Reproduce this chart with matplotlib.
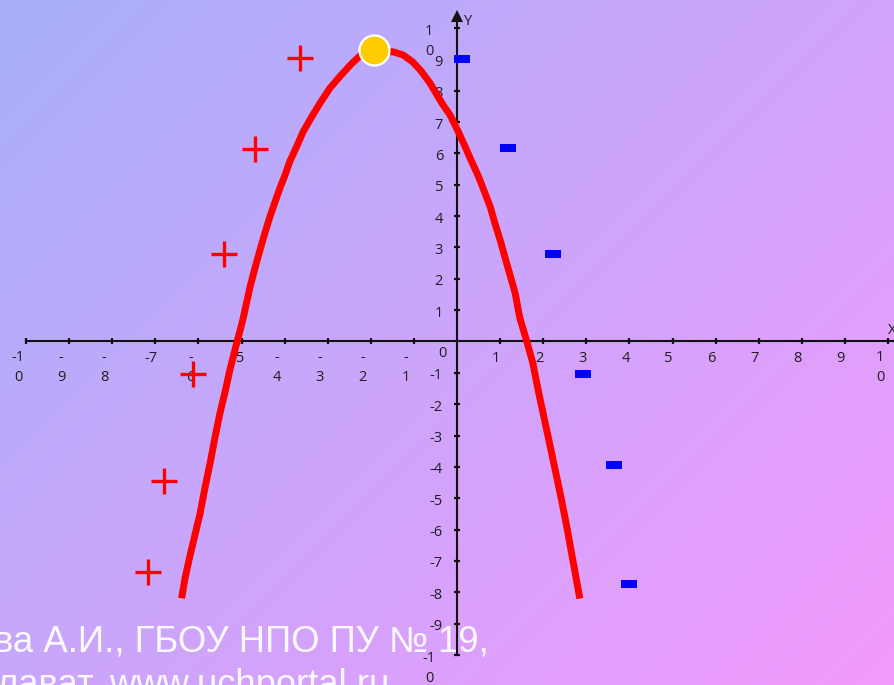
import numpy as np
import matplotlib
matplotlib.use("Agg")
import matplotlib.pyplot as plt

# ---------------- data ----------------
curve_x = [-6.39, -6.31, -6.20, -6.08, -5.96, -5.85, -5.73, -5.62, -5.50, -5.38,
           -5.27, -5.14, -5.03, -4.96, -4.92, -4.80, -4.69, -4.57, -4.46, -4.34,
           -4.22, -4.11, -3.99, -3.88, -3.72, -3.57, -3.37, -3.18, -2.95, -2.72,
           -2.44, -2.25, -1.93, -1.48, -1.25, -1.03, -0.84, -0.63, -0.47, -0.32,
           -0.16, 0.01, 0.19, 0.34, 0.50, 0.65, 0.77, 0.88, 1.00, 1.11,
           1.23, 1.35, 1.46, 1.62, 1.76, 1.89, 2.07, 2.22, 2.38, 2.53,
           2.69, 2.85]
curve_y = [-8.19, -7.55, -6.86, -6.17, -5.48, -4.68, -3.89, -3.09, -2.29, -1.60,
           -0.91, -0.20, 0.37, 0.75, 1.00, 1.75, 2.33, 2.92, 3.45, 3.98,
           4.46, 4.89, 5.31, 5.74, 6.22, 6.69, 7.17, 7.60, 8.08, 8.45,
           8.87, 9.11, 9.25, 9.24, 9.14, 8.92, 8.64, 8.25, 7.88, 7.54,
           7.22, 6.75, 6.21, 5.74, 5.26, 4.73, 4.30, 3.77, 3.24, 2.70,
           2.12, 1.54, 0.74, 0.00, -0.69, -1.60, -2.75, -3.72, -4.75, -5.78,
           -6.99, -8.20]

vertex_x = [-1.93]
vertex_y = [9.30]

plus_x = [-3.64, -4.69, -5.40, -6.12, -6.79, -7.16]
plus_y = [9.05, 6.14, 2.79, -1.05, -4.45, -7.34]

minus_x = [0.12, 1.18, 2.22, 2.93, 3.64, 3.98]
minus_y = [9.00, 6.18, 2.80, -1.03, -3.93, -7.72]

x_ticks = [-10, -9, -8, -7, -6, -5, -4, -3, -2, -1, 1, 2, 3, 4, 5, 6, 7, 8, 9, 10]
x_tick_labels = ["-1\n0", "-\n9", "-\n8", "-7", "-\n6", "-5", "-\n4", "-\n3", "-\n2", "-\n1",
                 "1", "2", "3", "4", "5", "6", "7", "8", "9", "1\n0"]
y_ticks = [10, 9, 8, 7, 6, 5, 4, 3, 2, 1, -1, -2, -3, -4, -5, -6, -7, -8, -9, -10]
y_tick_labels = ["1\n0", "9", "8", "7", "6", "5", "4", "3", "2", "1",
                 "-1", "-2", "-3", "-4", "-5", "-6", "-7", "-8", "-9", "-1\n0"]
origin_label = "0"
axis_x_name = "X"
axis_y_name = "Y"
watermark_1 = "ва А.И., ГБОУ НПО ПУ № 19,"
watermark_2 = "лават. www.uchportal.ru"

# ---------------- layout ----------------
W, H, DPI = 895, 685, 100
X0_PX, UX = 457.0, 43.1      # pixel of x=0, pixels per unit
Y0_PX, UY = 341.5, 31.35     # pixel of y=0, pixels per unit
PT = 72.0 / DPI              # points per pixel

fig = plt.figure(figsize=(W / DPI, H / DPI), dpi=DPI)

# background gradient
bg = fig.add_axes([0, 0, 1, 1])
bg.axis("off")
xx, yy = np.meshgrid(np.arange(W), np.arange(H))
t = (xx + yy) / float(W + H)
c0 = np.array([168, 176, 252]) / 255.0
c1 = np.array([242, 154, 251]) / 255.0
img = c0[None, None, :] + t[..., None] * (c1 - c0)[None, None, :]
bg.imshow(img, extent=[0, 1, 0, 1], origin="upper", aspect="auto", interpolation="bilinear")
bg.set_xlim(0, 1)
bg.set_ylim(0, 1)
bg.text(-6 / W, 1 - 651 / H, watermark_1, transform=bg.transAxes, va="baseline", ha="left",
        fontsize=26.2, family="Liberation Sans", color="white", alpha=0.95)
bg.text(-3 / W, 1 - 695 / H, watermark_2, transform=bg.transAxes, va="baseline", ha="left",
        fontsize=26.2, family="Liberation Sans", color="white", alpha=0.95, clip_on=False)

ax = fig.add_axes([0, 0, 1, 1])
ax.patch.set_alpha(0)
ax.axis("off")
xl = (-X0_PX / UX, (W - X0_PX) / UX)
yl = (-(H - Y0_PX) / UY, Y0_PX / UY)
ax.set_xlim(*xl)
ax.set_ylim(*yl)

axis_col = "#111111"
# axes lines
ax.plot([x_ticks[0], xl[1] + 0.5], [0, 0], color=axis_col, lw=1.5, zorder=2)
ax.plot([0, 0], [y_ticks[-1], 10.35], color=axis_col, lw=1.5, zorder=2)
ax.plot([0], [10.38], marker="^", ms=8.5, color=axis_col, mew=0, zorder=2)
ax.plot(x_ticks, [0] * len(x_ticks), ls="none", marker="|", ms=5, mew=1.6, color=axis_col, zorder=2)
ax.plot([0] * len(y_ticks), y_ticks, ls="none", marker="_", ms=5, mew=1.6, color=axis_col, zorder=2)

lab_kw = dict(textcoords="offset points", va="baseline", fontsize=10.5, family="Open Sans",
              color="#1e1e1e", linespacing=1.45, multialignment="center", zorder=3)

for xv, s in zip(x_ticks, x_tick_labels):
    if "\n" in s:
        ax.annotate(s, (xv, 0), xytext=(-8 * PT, -39.5 * PT), ha="center", **lab_kw)
    else:
        ax.annotate(s, (xv, 0), xytext=(-4 * PT, -20.5 * PT), ha="center", **lab_kw)

for yv, s in zip(y_ticks, y_tick_labels):
    if "\n" in s:
        ax.annotate(s, (0, yv), xytext=(-28 * PT, -27 * PT), ha="center", **lab_kw)
    else:
        ax.annotate(s, (0, yv), xytext=(-14 * PT, -6.5 * PT), ha="right", **lab_kw)

ax.annotate(origin_label, (0, 0), xytext=(-10 * PT, -16 * PT), ha="right", **lab_kw)
ax.annotate(axis_y_name, (0, 0), xycoords=("data", "axes fraction"), xytext=(7 * PT, (H - 25) * PT),
            ha="left", **lab_kw)
ax.annotate(axis_x_name, (0, 0), xycoords=("axes fraction", "data"), xytext=((W - 7) * PT, 7 * PT),
            ha="left", **lab_kw)

# parabola
ax.plot(curve_x, curve_y, color="#ff0000", lw=5.0, solid_joinstyle="round",
        solid_capstyle="butt", zorder=4)
# signs
ax.plot(plus_x, plus_y, ls="none", marker="+", ms=18.7, mew=2.4, color="#ff0000", zorder=4)
rect = [(-1, -0.45), (1, -0.45), (1, 0.45), (-1, 0.45), (-1, -0.45)]
ax.plot(minus_x, minus_y, ls="none", marker=rect, ms=11.5, mew=0, color="#0000ff", zorder=4)
# vertex
ax.plot(vertex_x, vertex_y, ls="none", marker="o", ms=21.6, mfc="#ffcc00", mec="white",
        mew=1.6, zorder=5)

fig.savefig("out.png", dpi=DPI)
